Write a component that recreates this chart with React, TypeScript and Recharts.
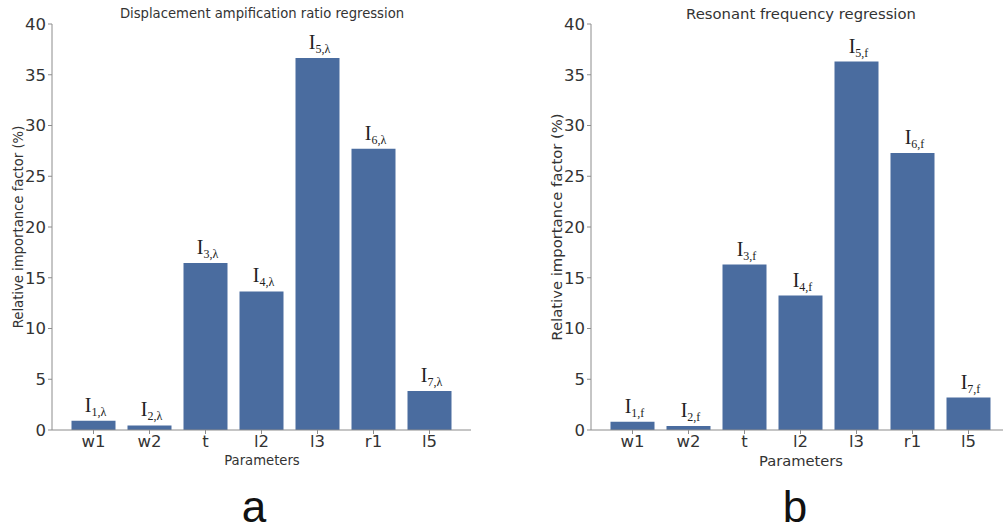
import { BarChart, Bar, XAxis, YAxis, LabelList } from "recharts";

const categories = ["w1", "w2", "t", "l2", "l3", "r1", "l5"];
const ampValues = [0.9, 0.45, 16.45, 13.65, 36.65, 27.7, 3.85];
const freqValues = [0.82, 0.4, 16.3, 13.25, 36.3, 27.3, 3.2];
const ampSubs = ["1,λ", "2,λ", "3,λ", "4,λ", "5,λ", "6,λ", "7,λ"];
const freqSubs = ["1,f", "2,f", "3,f", "4,f", "5,f", "6,f", "7,f"];
const yTicks = [0, 5, 10, 15, 20, 25, 30, 35, 40];

const BAR = "#4a6c9f";
const AXIS = "#8c8c8c";
const SANS = "DejaVu Sans";

function renderSub(props: any) {
  const { x, y, width, value } = props;
  return (
    <text
      x={Number(x) + Number(width) / 2 + 2}
      y={Number(y) - 9}
      textAnchor="middle"
      fontFamily="Liberation Serif"
      fill="#222"
    >
      <tspan fontSize={20}>I</tspan>
      <tspan fontSize={12} dy={4}>
        {value}
      </tspan>
    </text>
  );
}

function Panel({ left, values, subs }: { left: number; values: number[]; subs: string[] }) {
  const data = categories.map((name, i) => ({ name, value: values[i], sub: subs[i] }));
  const tick = { fill: "#333", fontSize: 16.5, fontFamily: SANS };
  return (
    <div style={{ position: "absolute", left, top: 0 }}>
      <BarChart width={500} height={480} data={data} margin={{ top: 24, right: 29, bottom: 0, left: 0 }}>
        <XAxis
          dataKey="name"
          height={50}
          interval={0}
          padding={{ left: 13.5, right: 13.5 }}
          tickSize={4}
          tickMargin={1}
          stroke={AXIS}
          tick={tick}
        />
        <XAxis xAxisId="top" dataKey="name" orientation="top" height={0} tick={false} tickLine={false} stroke={AXIS} />
        <YAxis
          width={52}
          domain={[0, 40]}
          ticks={yTicks}
          interval={0}
          tickSize={4}
          tickMargin={2}
          stroke={AXIS}
          tick={tick}
        />
        <YAxis yAxisId="right" orientation="right" width={0} domain={[0, 40]} tick={false} tickLine={false} stroke={AXIS} />
        <Bar dataKey="value" fill={BAR} barSize={44} isAnimationActive={false}>
          <LabelList dataKey="sub" content={renderSub} />
        </Bar>
      </BarChart>
    </div>
  );
}

export default function App() {
  return (
    <div
      style={{
        position: "absolute",
        left: 0,
        top: 0,
        width: 1003,
        height: 530,
        overflow: "hidden",
        background: "#fff",
      }}
    >
      <Panel left={0} values={ampValues} subs={ampSubs} />
      <Panel left={539} values={freqValues} subs={freqSubs} />
      <svg width={1003} height={530} style={{ position: "absolute", left: 0, top: 0, pointerEvents: "none" }}>
        <g fontFamily={SANS} fill="#333" textAnchor="middle">
          <text x={262} y={18} fontSize={13.2}>
            Displacement ampification ratio regression
          </text>
          <text x={801} y={19} fontSize={14.8}>
            Resonant frequency regression
          </text>
          <text x={262} y={465} fontSize={13.2}>
            Parameters
          </text>
          <text x={801} y={466} fontSize={14.7}>
            Parameters
          </text>
          <text x={18} y={227} fontSize={13.2} dominantBaseline="central" transform="rotate(-90, 18, 227)">
            Relative importance factor (%)
          </text>
          <text x={556} y={227} fontSize={14.8} dominantBaseline="central" transform="rotate(-90, 556, 227)">
            Relative importance factor (%)
          </text>
        </g>
        <g fontFamily="Liberation Sans" fill="#111" textAnchor="middle" fontSize={44}>
          <text x={254} y={522}>a</text>
          <text x={795} y={522}>b</text>
        </g>
      </svg>
    </div>
  );
}
